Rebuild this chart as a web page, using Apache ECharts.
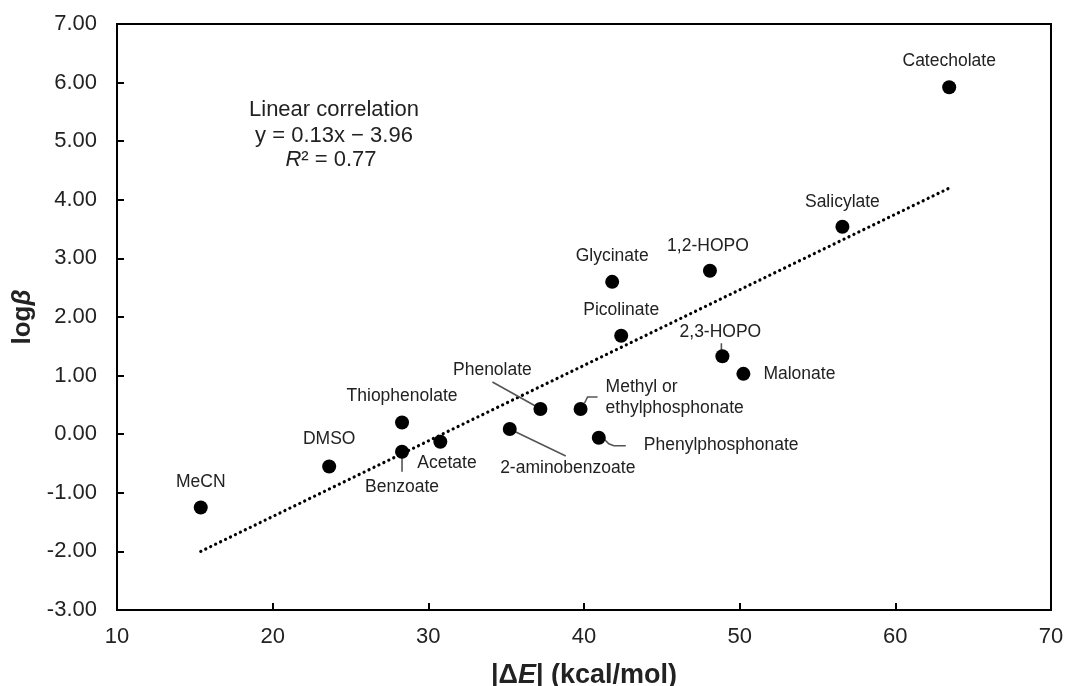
<!DOCTYPE html>
<html>
<head>
<meta charset="utf-8">
<script src="https://cdn.jsdelivr.net/npm/echarts@6/dist/echarts.min.js"></script>
<style>
html,body{margin:0;padding:0;background:#fff;}
#chart{width:1065px;height:686px;}
</style>
</head>
<body>
<div id="chart"></div>
<script>
// ---- data ----
const names = ['Catecholate','Salicylate','Glycinate','1,2-HOPO','Picolinate','2,3-HOPO','Malonate',
  'Phenolate','Methyl or\nethylphosphonate','2-aminobenzoate','Phenylphosphonate','Acetate',
  'Thiophenolate','Benzoate','DMSO','MeCN'];
const deltaE = [63.46, 56.60, 41.81, 48.09, 42.39, 48.89, 50.24,
  37.20, 39.78, 35.23, 40.95, 30.77, 28.31, 28.31, 23.63, 15.38];
const logBeta = [5.92, 3.54, 2.60, 2.79, 1.68, 1.33, 1.03,
  0.43, 0.43, 0.09, -0.06, -0.13, 0.20, -0.30, -0.55, -1.25];
const trendX = [15.38, 63.46];
const trendY = [-2.00, 4.20];
const xRange = [10, 70];
const yRange = [-3, 7];
const annotationLines = ['Linear correlation', 'y = 0.13x \u2212 3.96', 'R\u00B2 = 0.77'];

// ---- label placement (pixel offsets from point centre) ----
const labelPlace = {
  'Catecholate': [0, -26, 'center'],
  'Salicylate': [0, -25, 'center'],
  'Glycinate': [0, -26, 'center'],
  '1,2-HOPO': [-2, -25, 'center'],
  'Picolinate': [0, -26, 'center'],
  '2,3-HOPO': [-2, -24, 'center'],
  'Malonate': [20, 0, 'left'],
  'Phenolate': [-48, -39, 'center'],
  'Methyl or\nethylphosphonate': [25, -11, 'left'],
  '2-aminobenzoate': [58, 39, 'center'],
  'Phenylphosphonate': [45, 7, 'left'],
  'Acetate': [-23, 21, 'left'],
  'Thiophenolate': [0, -26, 'center'],
  'Benzoate': [0, 35, 'center'],
  'DMSO': [0, -27, 'center'],
  'MeCN': [0, -25, 'center']
};
const leaders = {
  '2,3-HOPO': [[-1, -13], [-1, -4]],
  'Phenolate': [[-48, -27], [-5, -3]],
  'Methyl or\nethylphosphonate': [[4, -6], [7, -12], [17, -12]],
  '2-aminobenzoate': [[4, 2], [56, 27]],
  'Phenylphosphonate': [[4, 0], [10, 6], [15, 8], [27, 8]],
  'Benzoate': [[0, 3], [0, 20]]
};

const FONT = '"Liberation Sans", Arial, sans-serif';
const points = deltaE.map((x, i) => [x, logBeta[i]]);
const trend = trendX.map((x, i) => [x, trendY[i]]);

const chart = echarts.init(document.getElementById('chart'), null, {renderer: 'canvas'});
chart.setOption({
  backgroundColor: '#fff',
  animation: false,
  grid: {left: 117, right: 14, top: 24, bottom: 76, containLabel: false, outerBoundsMode: 'none',
    show: true, borderColor: '#000', borderWidth: 2, backgroundColor: 'transparent'},
  xAxis: {
    type: 'value', min: xRange[0], max: xRange[1], interval: 10,
    splitLine: {show: false},
    axisLine: {show: true, onZero: false, lineStyle: {color: '#000', width: 2}},
    axisTick: {show: true, inside: true, length: 7, lineStyle: {color: '#000', width: 2}},
    axisLabel: {fontSize: 22, color: '#222', fontFamily: FONT, margin: 16},
    name: '|\u0394{e|E}| (kcal/mol)',
    nameLocation: 'middle', nameGap: 52,
    nameTextStyle: {fontSize: 27, fontWeight: 'bold', color: '#222', fontFamily: FONT,
      rich: {e: {fontSize: 27, fontWeight: 'bold', fontStyle: 'italic', color: '#222', fontFamily: FONT}}}
  },
  yAxis: {
    type: 'value', min: yRange[0], max: yRange[1], interval: 1,
    splitLine: {show: false},
    axisLine: {show: true, onZero: false, lineStyle: {color: '#000', width: 2}},
    axisTick: {show: true, inside: true, length: 7, lineStyle: {color: '#000', width: 2}},
    axisLabel: {fontSize: 22, color: '#222', fontFamily: FONT, margin: 20, formatter: v => v.toFixed(2)},
    name: 'log{b|\u03B2}',
    nameLocation: 'middle', nameGap: 74, nameRotate: 90,
    nameTextStyle: {fontSize: 26, fontWeight: 'bold', color: '#222', fontFamily: FONT,
      rich: {b: {fontSize: 26, fontWeight: 'bold', fontStyle: 'italic', color: '#222', fontFamily: FONT}}}
  },
  graphic: [
    {type: 'text', x: 334, y: 110, style: {text: annotationLines[0], align: 'center', verticalAlign: 'middle', fontSize: 22, fontFamily: FONT, fill: '#222'}},
    {type: 'text', x: 334, y: 136, style: {text: annotationLines[1], align: 'center', verticalAlign: 'middle', fontSize: 22, fontFamily: FONT, fill: '#222'}},
    {type: 'text', x: 331, y: 160, style: {text: '{i|R}' + annotationLines[2].slice(1), align: 'center', verticalAlign: 'middle', fontSize: 22, fontFamily: FONT, fill: '#222',
      rich: {i: {fontSize: 22, fontStyle: 'italic', fontFamily: FONT, fill: '#222'}}}}
  ],
  series: [
    {
      type: 'line', data: trend, symbol: 'none', z: 2,
      lineStyle: {color: '#000', width: 3.2, type: [0.1, 5.4], cap: 'round'}
    },
    {
      type: 'custom', data: points, z: 3, silent: true,
      renderItem: function (params, api) {
        const p = api.coord([api.value(0), api.value(1)]);
        const name = names[params.dataIndex];
        const lp = labelPlace[name];
        const children = [{
          type: 'text',
          style: {text: name, x: p[0] + lp[0], y: p[1] + lp[1], align: lp[2], verticalAlign: 'middle',
            fontSize: 17.5, lineHeight: 21, fontFamily: FONT, fill: '#222'}
        }];
        if (leaders[name]) {
          children.push({
            type: 'polyline',
            shape: {points: leaders[name].map(o => [p[0] + o[0], p[1] + o[1]])},
            style: {stroke: '#555', lineWidth: 1.6, fill: null}
          });
        }
        return {type: 'group', children: children};
      }
    },
    {
      type: 'scatter', data: points, symbol: 'circle', symbolSize: 14, z: 4,
      itemStyle: {color: '#000', opacity: 1}
    }
  ]
});
</script>
</body>
</html>
